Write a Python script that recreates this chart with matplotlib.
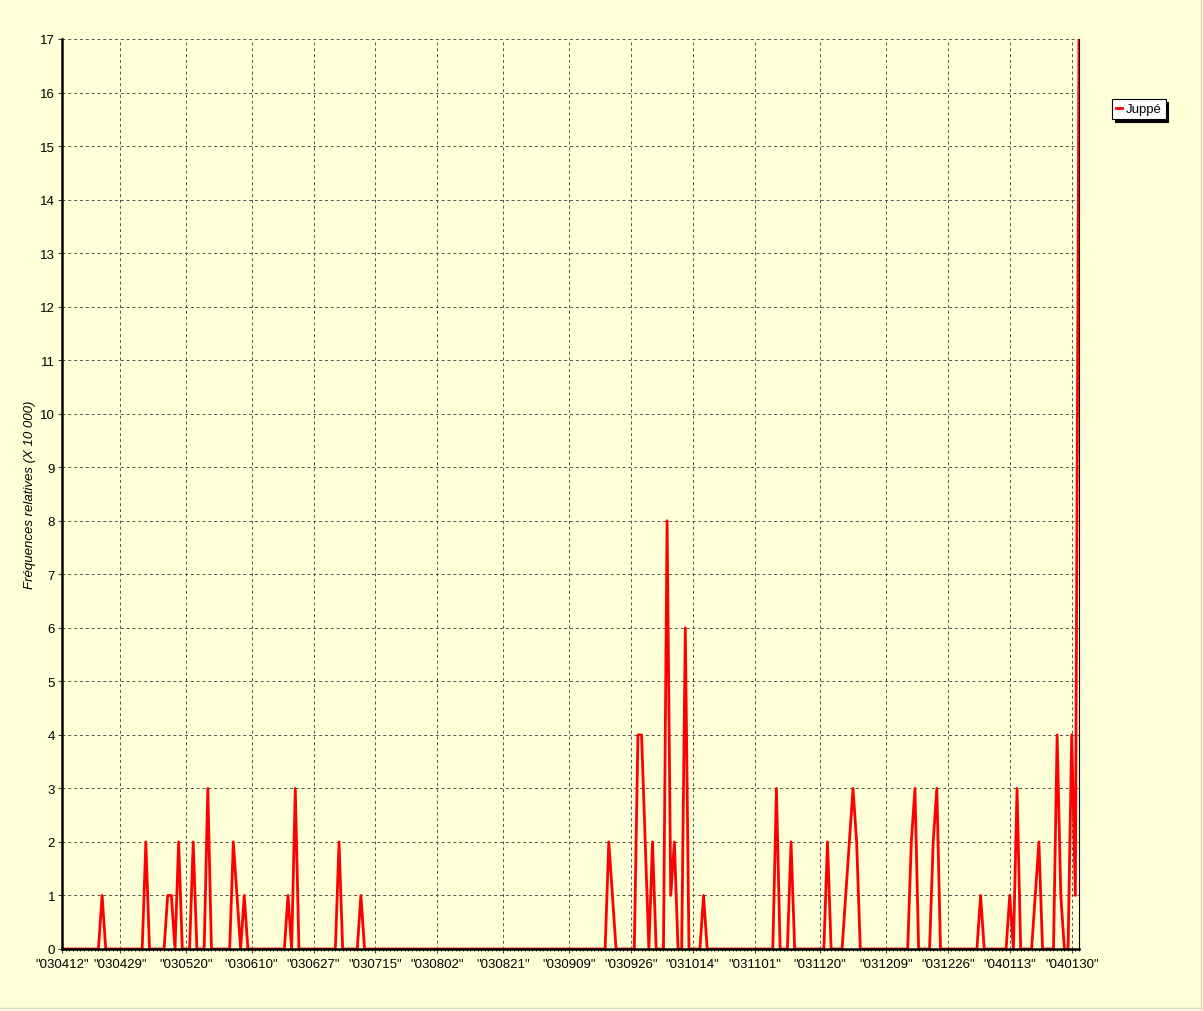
import numpy as np
import matplotlib.pyplot as plt
from matplotlib.lines import Line2D

plt.rcParams['font.family'] = ['Liberation Sans', 'DejaVu Sans']

# relative frequency (x 10 000), one value per publication day
juppe = [
    0, 0, 0, 0, 0, 0, 0, 0, 0, 0,  0, 1, 0, 0, 0, 0, 0, 0, 0, 0,   # 0-19
    0, 0, 0, 2, 0, 0, 0, 0, 0, 1,  1, 0, 2, 0, 0, 0, 2, 0, 0, 0,   # 20-39
    3, 0, 0, 0, 0, 0, 0, 2, 1, 0,  1, 0, 0, 0, 0, 0, 0, 0, 0, 0,   # 40-59
    0, 0, 1, 0, 3, 0, 0, 0, 0, 0,  0, 0, 0, 0, 0, 0, 2, 0, 0, 0,   # 60-79
    0, 0, 1, 0, 0, 0, 0, 0, 0, 0,  0, 0, 0, 0, 0, 0, 0, 0, 0, 0,   # 80-99
    0, 0, 0, 0, 0, 0, 0, 0, 0, 0,  0, 0, 0, 0, 0, 0, 0, 0, 0, 0,   # 100-119
    0, 0, 0, 0, 0, 0, 0, 0, 0, 0,  0, 0, 0, 0, 0, 0, 0, 0, 0, 0,   # 120-139
    0, 0, 0, 0, 0, 0, 0, 0, 0, 0,  2, 1, 0, 0, 0, 0, 0, 0, 4, 4,   # 140-159
    2, 0, 2, 0, 0, 0, 8, 1, 2, 0,  0, 6, 0, 0, 0, 0, 1, 0, 0, 0,   # 160-179
    0, 0, 0, 0, 0, 0, 0, 0, 0, 0,  0, 0, 0, 0, 0, 0, 3, 0, 0, 0,   # 180-199
    2, 0, 0, 0, 0, 0, 0, 0, 0, 0,  2, 0, 0, 0, 0, 1, 2, 3, 2, 0,   # 200-219
    0, 0, 0, 0, 0, 0, 0, 0, 0, 0,  0, 0, 0, 2, 3, 0, 0, 0, 0, 2,   # 220-239
    3, 0, 0, 0, 0, 0, 0, 0, 0, 0,  0, 0, 1, 0, 0, 0, 0, 0, 0, 0,   # 240-259
    1, 0, 3, 0, 0, 0, 0, 1, 2, 0,  0, 0, 0, 4, 1, 0, 0, 4, 1, 17,  # 260-279
]

# labelled days and their position in the series
tick_idx = [0, 16, 34, 52, 69, 86, 103, 121, 139, 156, 173, 190, 208, 226, 243, 260, 277]
tick_labels = ['030412', '030429', '030520', '030610', '030627', '030715',
               '030802', '030821', '030909', '030926', '031014', '031101',
               '031120', '031209', '031226', '040113', '040130']

bg = '#FFFFD8'
W, H = 1203, 1012

fig = plt.figure(figsize=(W / 100, H / 100), dpi=100, facecolor=bg)
ax = fig.add_axes([62 / W, 1 - 950 / H, (1079 - 62) / W, (950 - 40) / H])
ax.set_facecolor(bg)

x = np.arange(len(juppe))
ax.plot(x, juppe, color='#FF0000', lw=2.0, solid_joinstyle='round', zorder=2)

ax.set_xlim(0, len(juppe) - 1)
ax.set_ylim(0, 17)

ax.set_yticks(range(0, 18))
ax.set_xticks(tick_idx)
ax.set_xticklabels(['"%s"' % t for t in tick_labels])
ax.set_xticks(x, minor=True)

ax.tick_params(axis='both', which='major', labelsize=9.5, length=3, width=0.8,
               color='#404040', labelcolor='black')
ax.tick_params(axis='x', which='major', pad=3.5)
ax.tick_params(axis='y', which='major', pad=2)
ax.tick_params(axis='x', which='minor', length=1.5, width=0.6, color='black')

ax.grid(True, which='major', color='#505050', lw=0.7, linestyle=(0, (3, 3)), zorder=1)

ax.spines['top'].set_visible(False)
ax.spines['left'].set_linewidth(1.8)
ax.spines['bottom'].set_linewidth(1.8)
ax.spines['right'].set_linewidth(0.8)
for s in ax.spines.values():
    s.set_color('black')
ax.spines['right'].set_zorder(1.5)

ax.set_ylabel('Fréquences relatives (X 10 000)', fontsize=9.5, style='italic', labelpad=3)

handle = Line2D([], [], color='#FF0000', lw=2)
leg = fig.legend([handle], ['Juppé'], loc='upper left',
                 bbox_to_anchor=(1112 / W, 1 - 100 / H), bbox_transform=fig.transFigure,
                 fontsize=9.5, frameon=True, fancybox=False, framealpha=1,
                 facecolor='white', edgecolor='black',
                 shadow={'color': 'black', 'alpha': 1},
                 handlelength=0.45, handletextpad=0.3, borderpad=0.3,
                 borderaxespad=0)
leg.get_frame().set_linewidth(0.8)

# light frame round the chart
fig.add_artist(Line2D([1200.5 / W] * 2, [1 - 1008.5 / H, 1], transform=fig.transFigure,
                      color='#d8d8c8', lw=1))
fig.add_artist(Line2D([0, 1200.5 / W], [1 - 1008.5 / H] * 2, transform=fig.transFigure,
                      color='#d8d8c8', lw=1))

fig.savefig('out.png', dpi=100, facecolor=bg)
